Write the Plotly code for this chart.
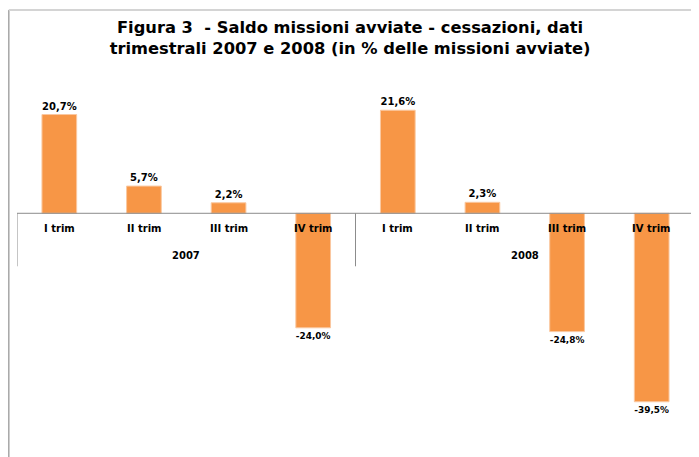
import plotly.graph_objects as go

years = ["2007", "2008"]
quarters = ["I trim", "II trim", "III trim", "IV trim", "I trim", "II trim", "III trim", "IV trim"]
values = [20.7, 5.7, 2.2, -24.0, 21.6, 2.3, -24.8, -39.5]

title_text = ("Figura 3  - Saldo missioni avviate - cessazioni, dati<br>"
              "trimestrali 2007 e 2008 (in % delle missioni avviate)")

# page body has an 8px margin: the figure starts at page (8, 8)
W, H = 691, 449
ML, MR, MT, MB = 9, 5, 86, 29
YMIN, YMAX = -45, 25
PX_PER_UNIT = (H - MT - MB) / (YMAX - YMIN)

idx = list(range(len(values)))

fig = go.Figure()
fig.add_trace(go.Bar(
    x=idx,
    y=values,
    marker=dict(color="#F79646", line=dict(color="#FAC8A0", width=1)),
    texttemplate="%{y:.1f}%",
    textposition="outside",
    textfont=dict(family="DejaVu Sans", size=10, color="#000000", weight="bold"),
    cliponaxis=False,
    width=0.41,
))

annotations = []
for i, q in enumerate(quarters):
    annotations.append(dict(
        x=i, y=0, xref="x", yref="y", text=q, showarrow=False,
        yshift=-15.5, yanchor="middle", xanchor="center",
        font=dict(family="DejaVu Sans", size=10, color="#000000", weight="bold"),
    ))
n_per_year = len(quarters) // len(years)
for j, yr in enumerate(years):
    annotations.append(dict(
        x=j * n_per_year + (n_per_year - 1) / 2, y=0, xref="x", yref="y", text=yr,
        showarrow=False, yshift=-42, yanchor="middle", xanchor="center",
        font=dict(family="DejaVu Sans", size=10, color="#000000", weight="bold"),
    ))

div_len = 53 / PX_PER_UNIT
shapes = [
    dict(type="line", xref="x", yref="y", x0=-0.5, x1=len(values) - 0.5, y0=0, y1=0,
         line=dict(color="#8c8c8c", width=1)),
]
for k in range(len(years) + 1):
    xv = k * n_per_year - 0.5
    shapes.append(dict(type="line", xref="x", yref="y", x0=xv, x1=xv, y0=0, y1=-div_len,
                       line=dict(color="#8c8c8c", width=1)))

PW, PH = W - ML - MR, H - MT - MB
top_y = 1 + (MT - 2) / PH
left_x = (0.8 - ML) / PW
shapes += [
    dict(type="line", xref="paper", yref="paper",
         x0=left_x, x1=left_x, y0=top_y, y1=-MB / PH - 0.01,
         line=dict(color="#a6a6a6", width=1.5)),
    dict(type="line", xref="paper", yref="paper",
         x0=left_x, x1=(W - ML) / PW + 0.01, y0=top_y, y1=top_y,
         line=dict(color="#d4d4d4", width=2)),
]

fig.update_layout(
    width=W, height=H,
    margin=dict(l=ML, r=MR, t=MT, b=MB, autoexpand=False),
    paper_bgcolor="white",
    plot_bgcolor="white",
    separators=",.",
    showlegend=False,
    title=dict(
        text=title_text,
        x=0.495, xanchor="center",
        y=1 - 25 / H, yanchor="top",
        yref="container",
        font=dict(family="DejaVu Sans", size=16.3, color="#000000", weight="bold"),
    ),
    xaxis=dict(
        range=[-0.5, len(values) - 0.5],
        visible=False, showgrid=False, zeroline=False, automargin=False,
    ),
    yaxis=dict(
        range=[YMIN, YMAX],
        visible=False, showgrid=False, zeroline=False, automargin=False,
    ),
    annotations=annotations,
    shapes=shapes,
)

fig.write_html("out.html")
